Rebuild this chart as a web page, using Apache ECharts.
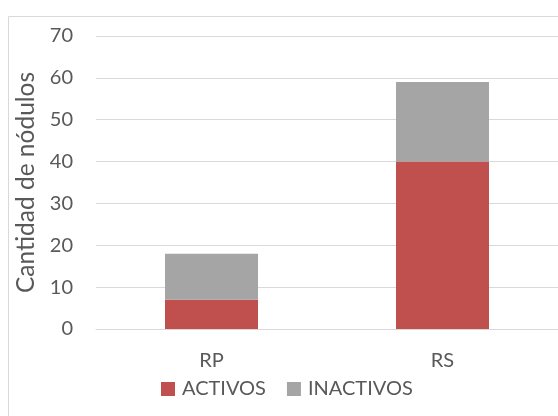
<!DOCTYPE html>
<html><head><meta charset="utf-8">
<script src="https://cdn.jsdelivr.net/npm/echarts@6/dist/echarts.min.js"></script>
<style>html,body{margin:0;padding:0;background:#fff}#c{width:558px;height:416px}</style>
</head><body><div id="c"></div>
<script>
var categories = ['RP', 'RS'];
var activos = [7, 40];
var inactivos = [11, 19];
var yTicks = [0, 10, 20, 30, 40, 50, 60, 70];

var FONT = 'Lato';
var chart = echarts.init(document.getElementById('c'), null, {renderer: 'canvas'});
chart.setOption({
  animation: false,
  backgroundColor: '#fff',
  textStyle: {fontFamily: FONT},
  graphic: [{
    type: 'rect', left: 6, top: 14, z: -1,
    shape: {width: 600, height: 500},
    style: {fill: 'none', stroke: '#D9D9D9', lineWidth: 1}
  }],
  grid: {left: 96, right: 0, top: 36, bottom: 87, containLabel: false},
  legend: {
    left: 156, top: 374,
    itemWidth: 14, itemHeight: 14, itemGap: 21,
    icon: 'rect',
    textStyle: {fontFamily: FONT, fontSize: 20, color: '#595959', padding: [0, 0, 0, 2]},
    data: ['ACTIVOS', 'INACTIVOS']
  },
  xAxis: {
    type: 'category', data: categories,
    axisLine: {show: true, lineStyle: {color: '#D9D9D9', width: 1}},
    axisTick: {show: false},
    axisLabel: {fontFamily: FONT, fontSize: 20, color: '#595959', margin: 22}
  },
  yAxis: {
    type: 'value', min: yTicks[0], max: yTicks[yTicks.length - 1], interval: 10,
    name: 'Cantidad de nódulos', nameLocation: 'middle', nameGap: 57,
    nameTextStyle: {fontFamily: FONT, fontSize: 24.5, color: '#595959'},
    axisLine: {show: false}, axisTick: {show: false},
    axisLabel: {fontFamily: FONT, fontSize: 20, color: '#595959', margin: 23},
    splitLine: {lineStyle: {color: '#D9D9D9', width: 1}}
  },
  series: [
    {name: 'ACTIVOS', type: 'bar', stack: 'total', data: activos, barWidth: 93,
     itemStyle: {color: '#C0504D'}},
    {name: 'INACTIVOS', type: 'bar', stack: 'total', data: inactivos, barWidth: 93,
     itemStyle: {color: '#A5A5A5'}}
  ]
});
</script></body></html>
